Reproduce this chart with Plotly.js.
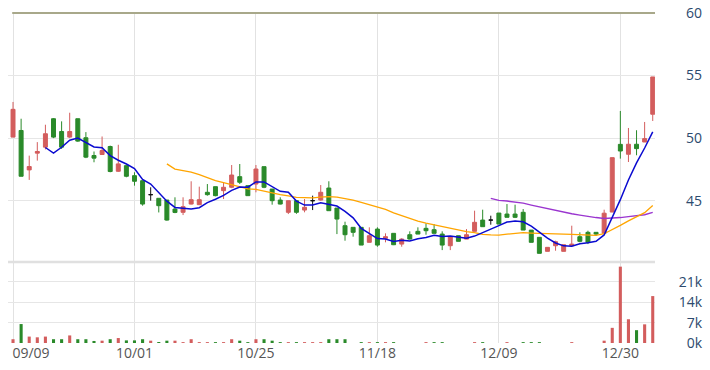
<!DOCTYPE html>
<html><head><meta charset="utf-8">
<script src="https://cdn.plot.ly/plotly-3.0.1.min.js"></script>
<style>html,body{margin:0;padding:0;background:#fff;}#chart{width:710px;height:370px;}</style>
</head><body><div id="chart"></div>
<script>
// ---- data ----
const openP = [50.08,50.61,47.46,48.80,49.28,51.55,50.53,50.08,51.55,50.03,48.61,48.69,49.33,47.35,47.80,47.00,46.60,45.48,45.19,45.05,
44.33,44.07,44.73,44.68,45.67,46.12,45.80,46.07,46.92,46.20,46.33,47.72,45.93,45.05,44.07,45.00,44.25,45.00,45.05,46.01,
44.41,43.00,42.87,42.87,41.67,42.73,41.99,42.39,41.53,42.28,42.55,42.79,42.68,42.33,41.40,42.20,41.93,42.55,43.45,43.45,
44.01,43.93,43.93,44.07,42.65,42.07,40.95,41.40,40.95,41.40,42.12,42.47,42.47,42.40,44.09,49.50,48.71,49.51,49.69,51.91];
const highP = [52.89,51.55,48.60,49.68,51.07,51.60,51.34,52.03,51.55,50.48,48.93,50.13,49.40,49.47,47.80,47.27,46.60,46.07,45.19,45.05,
45.27,45.27,46.55,46.12,46.33,46.12,46.47,47.85,47.93,46.20,47.85,47.72,45.93,45.27,45.00,45.00,45.13,45.40,46.25,46.55,
44.41,43.32,42.87,42.87,42.87,42.87,42.39,42.39,42.00,42.55,42.87,43.19,43.13,42.55,42.12,42.20,42.73,44.20,44.28,43.80,
44.01,44.73,44.68,44.33,42.65,42.07,41.27,41.80,41.48,43.00,42.47,42.60,42.47,44.28,48.44,52.17,50.81,50.63,51.29,54.89];
const lowP = [50.08,46.95,46.66,48.20,49.10,50.00,49.14,50.00,49.70,48.40,48.07,48.65,47.27,47.30,46.87,46.20,44.60,45.00,44.06,43.40,
44.00,43.85,44.70,44.65,45.40,45.35,45.13,46.00,46.33,45.40,45.67,46.00,44.68,44.70,43.93,43.95,44.07,44.25,45.00,44.20,
42.33,41.80,42.12,41.45,41.67,41.32,41.67,41.45,41.32,41.90,42.33,42.28,42.39,41.05,41.05,41.75,41.93,42.55,42.92,43.08,
43.13,43.67,43.61,42.65,41.67,40.79,40.95,41.00,40.95,41.40,41.67,41.53,42.20,42.40,44.09,48.36,48.09,48.63,49.69,51.37];
const closeP = [52.30,46.95,47.73,48.93,50.35,50.08,49.28,50.53,49.76,48.48,48.40,49.01,47.33,47.94,46.95,46.55,44.73,45.48,44.60,43.45,
44.06,44.52,45.08,45.08,45.48,45.40,46.07,47.05,46.47,45.40,47.53,46.07,45.00,44.73,45.00,44.07,44.47,45.00,45.67,44.20,
43.53,42.28,42.47,41.45,42.20,41.45,42.12,41.48,41.93,41.93,42.33,42.60,42.39,41.45,42.12,41.75,42.28,43.27,42.92,43.45,
43.13,43.67,43.67,42.65,41.67,40.79,41.27,41.72,41.48,41.53,41.75,41.67,42.33,44.00,48.44,48.97,49.51,49.16,49.96,54.89];
const volume = [1300,6500,2200,1950,2200,1300,1300,2600,1300,1300,700,800,1300,1700,900,900,1300,800,350,800,
800,300,1300,300,300,300,300,1300,800,300,1300,1300,800,300,300,300,300,300,300,1300,
1300,1300,0,300,300,300,300,300,0,0,0,300,300,300,0,0,0,300,300,0,
0,300,0,300,300,300,0,0,0,300,0,0,0,800,5200,26200,8150,4400,6400,16100];
const ma5 = [null,null,null,null,49.25,48.81,49.27,49.83,50.00,49.63,49.29,49.24,48.60,48.23,47.93,47.56,46.70,46.33,45.66,44.96,
44.46,44.42,44.34,44.44,44.84,45.11,45.42,45.82,46.09,46.08,46.50,46.50,46.09,45.75,45.67,44.97,44.65,44.65,44.84,44.68,
44.57,44.14,43.63,42.79,42.39,41.97,41.94,41.74,41.84,41.78,41.96,42.05,42.24,42.14,42.18,42.06,42.00,42.17,42.47,42.73,
43.01,43.29,43.37,43.31,42.96,42.49,42.01,41.62,41.39,41.36,41.55,41.63,41.75,42.26,43.64,45.08,46.65,48.02,49.21,50.50];
const ma20 = [null,null,null,null,null,null,null,null,null,null,null,null,null,null,null,null,null,null,null,47.94,
47.53,47.41,47.28,47.08,46.84,46.61,46.45,46.27,46.11,45.95,45.91,45.76,45.65,45.49,45.39,45.26,45.25,45.23,45.28,45.32,
45.29,45.18,45.05,44.87,44.70,44.51,44.31,44.03,43.80,43.63,43.37,43.20,43.07,42.90,42.76,42.64,42.53,42.45,42.31,42.27,
42.25,42.32,42.38,42.44,42.41,42.38,42.34,42.35,42.33,42.31,42.28,42.23,42.23,42.36,42.67,43.03,43.39,43.69,44.04,44.61];
const ma60 = [null,null,null,null,null,null,null,null,null,null,null,null,null,null,null,null,null,null,null,null,
null,null,null,null,null,null,null,null,null,null,null,null,null,null,null,null,null,null,null,null,
null,null,null,null,null,null,null,null,null,null,null,null,null,null,null,null,null,null,null,45.18,
45.02,44.97,44.90,44.80,44.65,44.50,44.36,44.22,44.08,43.96,43.85,43.73,43.65,43.58,43.61,43.65,43.73,43.79,43.88,44.07];
const tickIndex = [0,15,30,45,60,75];
const tickLabels = ['09/09','10/01','10/25','11/18','12/09','12/30'];
const priceTicks = [45,50,55,60];
const volTicks = [0,7000,14000,21000];
const volTickLabels = ['0k','7k','14k','21k'];

// ---- styles ----
const RED = '#d35d5d', GREEN = '#2a8a2a', BLACK = '#111111';
const dayIndex = closeP.map((_, i) => i);
const X_RANGE = [-0.62, 79.28];

function subset(test) {
  return {
    open: dayIndex.map(i => test(i) ? openP[i] : null),
    high: dayIndex.map(i => test(i) ? highP[i] : null),
    low: dayIndex.map(i => test(i) ? lowP[i] : null),
    close: dayIndex.map(i => test(i) ? closeP[i] : null)
  };
}
function candle(test, col) {
  const s = subset(test);
  return Object.assign({
    type: 'candlestick', x: dayIndex, xaxis: 'x', yaxis: 'y',
    increasing: {line: {color: col, width: 1}, fillcolor: col},
    decreasing: {line: {color: col, width: 1}, fillcolor: col},
    whiskerwidth: 0, hoverinfo: 'skip', showlegend: false
  }, s);
}
const volColors = dayIndex.map(i => (i === 0 || closeP[i] >= closeP[i-1]) ? RED : GREEN);

const traces = [
  {type: 'bar', x: dayIndex, y: volume, xaxis: 'x', yaxis: 'y2', width: 0.38,
   marker: {color: volColors, line: {width: 0}}, hoverinfo: 'skip'},
  {type: 'scatter', mode: 'lines', x: dayIndex, y: ma60, line: {color: '#9a35cf', width: 1.4}, hoverinfo: 'skip'},
  {type: 'scatter', mode: 'lines', x: dayIndex, y: ma20, line: {color: '#ffa500', width: 1.3}, hoverinfo: 'skip'},
  candle(i => closeP[i] > openP[i], RED),
  candle(i => closeP[i] < openP[i], GREEN),
  candle(i => closeP[i] === openP[i], BLACK),
  {type: 'scatter', mode: 'lines', x: dayIndex, y: ma5, line: {color: '#0a0ad0', width: 1.5}, hoverinfo: 'skip'},
  // carrier for the first-date label axis (draws nothing)
  {type: 'scatter', mode: 'markers', x: [tickIndex[0]], y: [null], xaxis: 'x3', yaxis: 'y2', hoverinfo: 'skip'}
];

const volTop = 0.2455;
const commonX = {range: X_RANGE, tickmode: 'array', zeroline: false, showline: false, ticks: '',
  tickfont: {size: 14, color: '#555555'}, fixedrange: true};
const layout = {
  width: 710, height: 370,
  margin: {l: 8, r: 8, t: 13, b: 27},
  paper_bgcolor: '#ffffff', plot_bgcolor: '#ffffff',
  showlegend: false, hovermode: false,
  font: {family: 'Open Sans, sans-serif'},
  xaxis: Object.assign({}, commonX, {domain: [0, 0.93228], anchor: 'y2',
    tickvals: tickIndex, ticktext: tickLabels.map((t, k) => k === 0 ? '' : t),
    showgrid: true, gridcolor: '#e2e2e2', gridwidth: 1, rangeslider: {visible: false}}),
  xaxis3: Object.assign({}, commonX, {overlaying: 'x', anchor: 'y2',
    tickvals: [tickIndex[0]], ticktext: [tickLabels[0]], ticklabelshift: 18, showgrid: false}),
  yaxis: {domain: [volTop, 1], range: [40.1, 60], anchor: 'free', position: 1, side: 'left',
    tickmode: 'array', tickvals: priceTicks, showgrid: true, gridcolor: '#e6e6e6', zeroline: false,
    showline: false, ticks: '', tickfont: {size: 14, color: '#2c4a6e'}},
  yaxis2: {domain: [0, volTop], range: [0, 27800], anchor: 'free', position: 1, side: 'left',
    tickmode: 'array', tickvals: volTicks, ticktext: volTickLabels, showgrid: true, gridcolor: '#e6e6e6',
    zeroline: false, showline: false, ticks: '', tickfont: {size: 14, color: '#2c4a6e'}},
  shapes: [
    {type: 'line', xref: 'x domain', yref: 'paper', x0: 0, x1: 1, y0: volTop, y1: volTop,
     line: {color: '#e0e0e0', width: 2.5}},
    {type: 'line', xref: 'x', yref: 'y domain', x0: -0.1, x1: X_RANGE[1], y0: 1, y1: 1,
     line: {color: '#a8a88a', width: 2}}
  ]
};
Plotly.newPlot('chart', traces, layout, {displayModeBar: false, staticPlot: true});
</script>
</body></html>
